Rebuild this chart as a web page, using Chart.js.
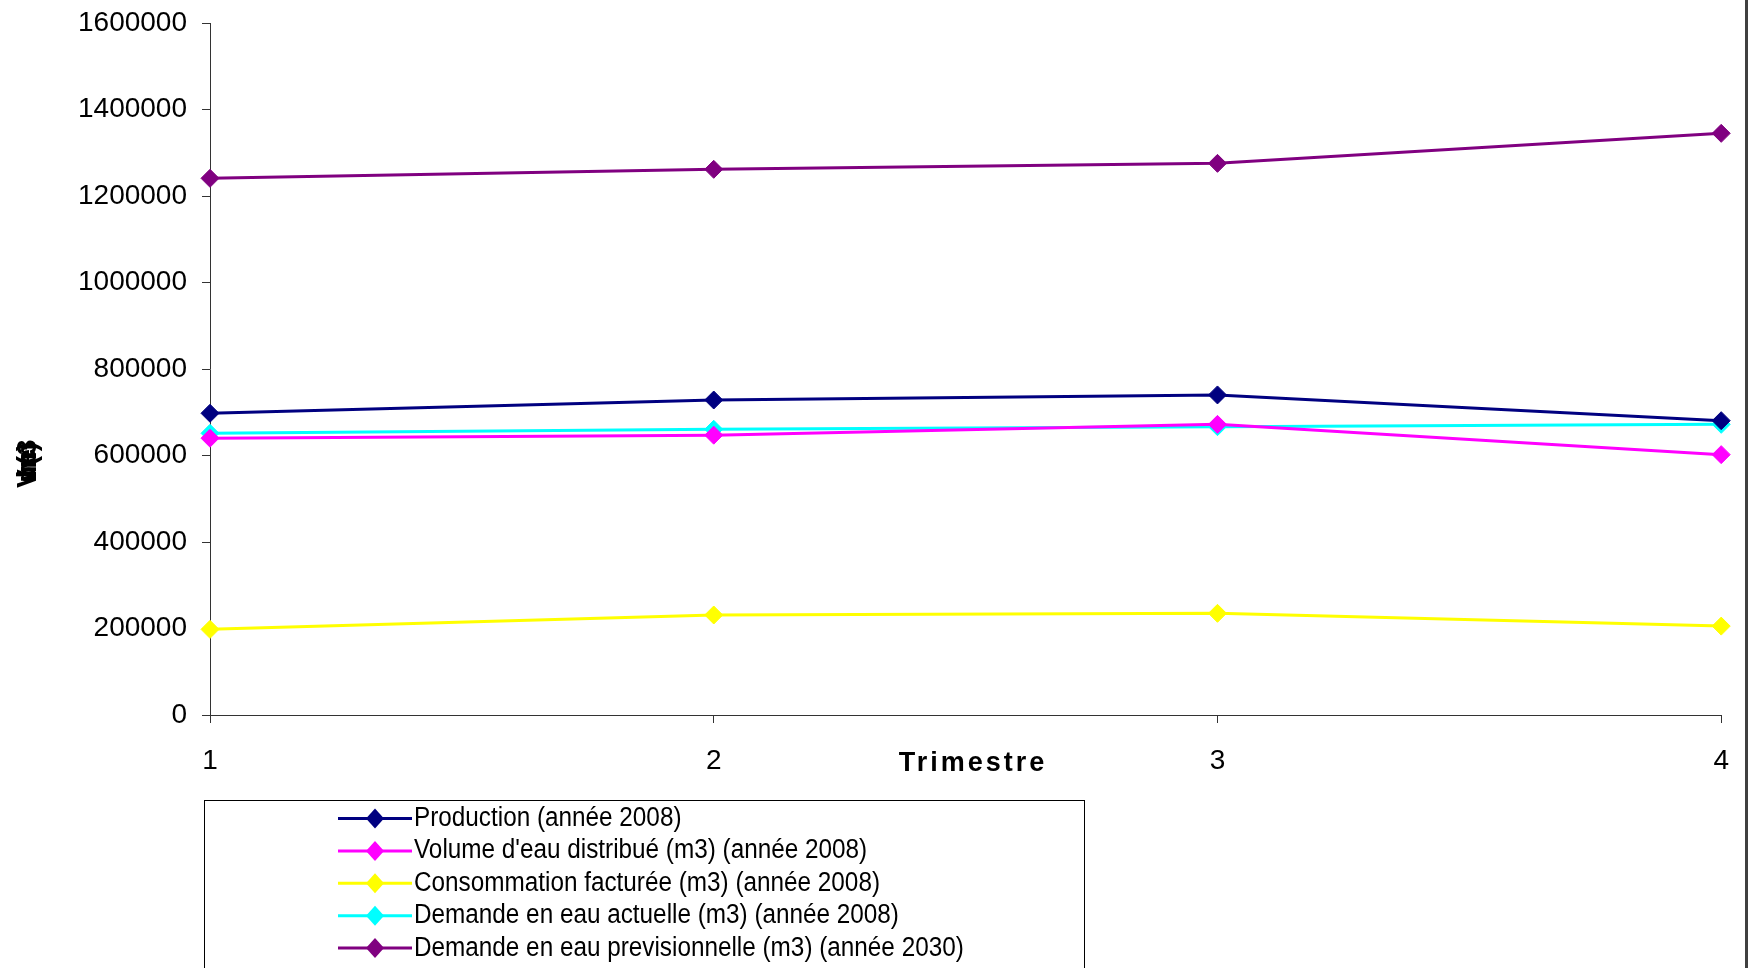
<!DOCTYPE html>
<html>
<head>
<meta charset="utf-8">
<script src="https://cdn.jsdelivr.net/npm/chart.js@4/dist/chart.umd.min.js"></script>
<style>
  body { margin: 0; background: #fff; }
  #wrap { width: 1750px; height: 968px; position: relative; }
</style>
</head>
<body>
<div id="wrap"><canvas id="chart"></canvas></div>
<script>
// trimestres
const trimestres = ['1', '2', '3', '4'];

// valeurs (m3)
const production = [697600, 728300, 740000, 680500];
const volumeDistribue = [640000, 647000, 672000, 602000];
const consommationFacturee = [198000, 231200, 235100, 205500];
const demandeActuelle = [651300, 660600, 666600, 672100];
const demandePrevisionnelle = [1240900, 1261700, 1275500, 1344900];

const seriesNames = [
    'Production (année 2008)',
    "Volume d'eau distribué (m3) (année 2008)",
    'Consommation facturée (m3) (année 2008)',
    'Demande en eau actuelle (m3) (année 2008)',
    'Demande en eau previsionnelle (m3) (année 2030)'
];
const seriesColors = ['#000080', '#FF00FF', '#FFFF00', '#00FFFF', '#800080'];
const seriesValues = [production, volumeDistribue, consommationFacturee, demandeActuelle, demandePrevisionnelle];

const yMax = 1600000;
const yStep = 200000;

const FONT = "'Liberation Sans', Arial, sans-serif";

// dessine la légende encadrée, le titre de l'axe x, le titre y et le bord droit
const extras = {
    id: 'extras',
    afterDraw(chart) {
        const ctx = chart.ctx;
        ctx.save();

        // bord droit
        ctx.strokeStyle = '#404040';
        ctx.lineWidth = 3;
        ctx.beginPath();
        ctx.moveTo(1746.5, 0);
        ctx.lineTo(1746.5, 968);
        ctx.stroke();

        // titre axe x
        ctx.fillStyle = '#000';
        ctx.font = 'bold 27px ' + FONT;
        ctx.letterSpacing = '3px';
        ctx.textAlign = 'center';
        ctx.textBaseline = 'middle';
        ctx.fillText('Trimestre', 973, 764);
        ctx.letterSpacing = '0px';

        // titre axe y (illisible dans l'original, caractères superposés)
        ctx.save();
        ctx.translate(28, 471);
        ctx.rotate(-Math.PI / 2);
        ctx.font = 'bold 28px ' + FONT;
        ctx.letterSpacing = '-12px';
        ctx.fillText('Volume (m3)', 0, 0);
        ctx.restore();

        // cadre légende
        ctx.strokeStyle = '#000';
        ctx.lineWidth = 1;
        ctx.strokeRect(204.5, 800.5, 880, 220);

        // éléments de légende
        chart.data.datasets.forEach((ds, i) => {
            const y = 818.5 + i * 32.4;
            ctx.strokeStyle = ds.borderColor;
            ctx.lineWidth = 3;
            ctx.beginPath();
            ctx.moveTo(338, y);
            ctx.lineTo(412, y);
            ctx.stroke();
            ctx.fillStyle = ds.backgroundColor;
            ctx.beginPath();
            ctx.moveTo(375, y - 10);
            ctx.lineTo(384, y);
            ctx.lineTo(375, y + 10);
            ctx.lineTo(366, y);
            ctx.closePath();
            ctx.fill();
            ctx.save();
            ctx.translate(414, y);
            ctx.scale(0.9, 1);
            ctx.fillStyle = '#000';
            ctx.font = '27px ' + FONT;
            ctx.textAlign = 'left';
            ctx.textBaseline = 'middle';
            ctx.fillText(ds.label, 0, 0);
            ctx.restore();
        });

        ctx.restore();
    }
};

new Chart(document.getElementById('chart').getContext('2d'), {
    type: 'line',
    data: {
        labels: trimestres,
        datasets: seriesValues.map((vals, i) => ({
            label: seriesNames[i],
            data: vals,
            borderColor: seriesColors[i],
            backgroundColor: seriesColors[i],
            borderWidth: 3,
            pointStyle: 'rectRot',
            pointRadius: 9,
            pointBorderWidth: 1,
            pointBackgroundColor: seriesColors[i],
            pointBorderColor: seriesColors[i],
            tension: 0
        }))
    },
    options: {
        responsive: true,
        maintainAspectRatio: false,
        animation: false,
        layout: { padding: { top: 23, right: 28, left: 0, bottom: 0 } },
        plugins: {
            legend: { display: false },
            tooltip: { enabled: false }
        },
        scales: {
            x: {
                offset: false,
                grid: { display: true, drawOnChartArea: false, drawTicks: true, tickLength: 8, color: '#333' },
                border: { color: '#333', width: 1 },
                ticks: { color: '#000', font: { family: FONT, size: 28 }, padding: 21, maxRotation: 0 },
                afterFit(scale) { scale.height = 253; }
            },
            y: {
                min: 0,
                max: yMax,
                grid: { display: true, drawOnChartArea: false, drawTicks: true, tickLength: 8, color: '#333' },
                border: { color: '#333', width: 1 },
                ticks: {
                    stepSize: yStep,
                    color: '#000',
                    font: { family: FONT, size: 28 },
                    padding: 15,
                    callback: v => String(v)
                },
                afterFit(scale) {
                    scale.width = 210;
                    scale.paddingTop = 0;
                    scale.paddingBottom = 0;
                }
            }
        }
    },
    plugins: [extras]
});
</script>
</body>
</html>
